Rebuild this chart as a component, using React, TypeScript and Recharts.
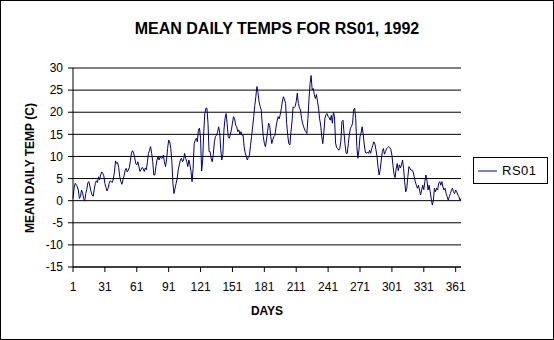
import { CartesianGrid, Legend, Line, LineChart, XAxis, YAxis } from "recharts";

// mean daily temperature (C), one value per day
const tempsQ1 = [
  0.5, 2.8, 3.9, 3.7, 3.2, 2.4, 0.5, 0.9, 2.4, 1.8,
  0.5, -0.1, 1.6, 2.6, 4.1, 4.3, 3.1, 2.0, 1.3, 1.0,
  2.6, 3.9, 4.5, 4.1, 5.4, 4.7, 5.8, 6.5, 6.2, 5.6,
  3.9, 3.0, 2.2, 2.8, 3.9, 4.5, 4.3, 4.1, 5.0, 6.5,
  9.0, 8.4, 8.6, 7.5, 5.4, 4.3, 3.7, 4.7, 5.6, 6.8,
  7.3, 6.5, 6.9, 7.5, 9.0, 10.8, 11.3, 10.8, 9.8, 8.4,
  8.1, 8.8, 7.7, 6.6, 7.0, 7.5, 7.3, 6.6, 7.4, 7.0,
  8.8, 10.7, 11.4, 12.2, 10.7, 8.8, 5.8, 5.8, 7.7, 9.2,
  9.9, 9.2, 9.9, 9.6, 9.6, 10.3, 8.8, 7.7, 9.2, 11.8,
  13.7,
];
const tempsQ2 = [
  13.3, 11.8, 8.8, 3.9, 1.6, 2.8, 3.9, 5.0, 7.0,
  8.1, 9.2, 9.6, 8.8, 9.2, 10.7, 9.6, 8.8, 7.7, 9.2,
  8.1, 6.6, 4.3, 7.3, 12.9, 13.7, 14.1, 13.3, 16.0, 16.4,
  14.1, 6.7, 9.2, 15.6, 19.7, 20.9, 20.9, 17.5, 11.1, 11.1,
  9.5, 8.8, 10.5, 13.3, 14.5, 14.8, 15.5, 16.7, 15.5, 11.5,
  9.2, 10.5, 16.0, 18.6, 19.7, 17.5, 14.5, 14.1, 15.0, 16.0,
  17.5, 19.0, 18.5, 17.1, 16.7, 15.6, 16.0, 15.0, 15.6, 14.8,
  14.8, 12.2, 10.8, 10.0, 9.2, 9.9, 10.3, 12.5, 14.5, 16.7,
  19.0, 21.5, 23.5, 25.8, 24.5, 22.5, 21.3, 20.6, 17.5, 14.5,
  13.0, 12.2,
];
const tempsQ3 = [
  13.7, 15.6, 17.5, 17.0, 14.5, 12.9, 13.8, 14.5, 14.8, 16.7,
  18.0, 19.0, 18.5, 19.5, 20.9, 22.5, 23.5, 22.8, 22.0, 17.5,
  14.8, 12.9, 12.6, 15.5, 17.8, 21.2, 21.0, 21.3, 22.4, 24.3,
  22.0, 21.0, 20.5, 18.6, 17.5, 16.7, 16.0, 15.6, 15.2, 18.6,
  23.0, 26.5, 28.3, 25.0, 25.4, 24.0, 23.1, 24.0, 22.5, 20.9,
  18.5, 17.1, 14.5, 12.9, 15.5, 18.6, 19.5, 19.7, 19.0, 18.8,
  18.2, 19.3, 17.5, 20.0, 19.0, 13.0, 12.0, 11.8, 11.4, 11.8,
  13.5, 17.9, 18.2, 15.2, 12.5, 10.7, 10.7, 12.9, 15.0, 16.4,
  16.8, 17.5, 20.5, 20.9, 18.5, 12.2, 9.6, 11.5, 14.5, 15.3,
  16.7, 15.0,
];
const tempsQ4 = [
  12.6, 11.0, 10.7, 11.0, 10.7, 11.4, 10.7, 11.8, 12.5, 13.3,
  12.8, 11.5, 10.0, 7.5, 5.8, 7.0, 9.2, 11.1, 11.8, 10.5,
  11.1, 11.8, 12.0, 12.2, 12.0, 11.6, 10.3, 8.0, 6.0, 5.2,
  7.2, 8.4, 6.8, 8.1, 7.4, 8.1, 9.2, 7.2, 4.3, 2.0,
  2.8, 5.4, 7.7, 7.3, 6.9, 6.9, 6.5, 5.4, 4.3, 3.5,
  2.8, 3.5, 2.4, 1.3, 2.4, 3.5, 2.5, 4.3, 5.8, 4.5,
  2.4, 3.5, 2.0, 0.5, -1.0, 0.1, 2.8, 2.0, 2.8, 2.4,
  3.9, 4.3, 3.5, 4.3, 3.1, 2.4, 2.8, 1.6, 0.9, 0.1,
  0.9, 1.6, 2.4, 2.8, 2.0, 1.6, 2.4, 2.0, 1.3, 0.9,
  0.1, 0.5,
];

const dayTicks = [1, 31, 61, 91, 121, 151, 181, 211, 241, 271, 301, 331, 361];
const tempTicks = [-15, -10, -5, 0, 5, 10, 15, 20, 25, 30];
const seriesName = "RS01";

const temps = [...tempsQ1, ...tempsQ2, ...tempsQ3, ...tempsQ4];
const data = temps.map((t, i) => ({ day: i + 1, [seriesName]: t }));

const font = "Arial, 'Liberation Sans', sans-serif";
const tickStyle = { fill: "#000", fontSize: 12, fontFamily: font };

function LegendBox() {
  return (
    <div
      style={{
        border: "1px solid #000",
        width: 75,
        height: 27,
        boxSizing: "border-box",
        display: "flex",
        alignItems: "center",
        fontFamily: font,
        fontSize: 13,
        background: "#fff",
      }}
    >
      <svg width={24} height={10} style={{ marginLeft: 4 }}>
        <line x1={0} y1={5} x2={19} y2={5} stroke="#000080" strokeWidth={1} />
      </svg>
      <span style={{ letterSpacing: 0.5 }}>{seriesName}</span>
    </div>
  );
}

export default function App() {
  return (
    <div style={{ position: "absolute", left: 0, top: 0, width: 554, height: 340, background: "#fff", fontFamily: font }}>
      <LineChart
        width={554}
        height={340}
        data={data}
        margin={{ top: 68, right: 93, bottom: 43, left: 33 }}
      >
        <CartesianGrid vertical={false} stroke="#000" strokeWidth={1} />
        <XAxis
          dataKey="day"
          type="number"
          domain={[1, 366]}
          ticks={dayTicks}
          interval={0}
          height={30}
          tickSize={5}
          tickMargin={10}
          stroke="#000"
          tick={tickStyle}
        />
        <YAxis
          domain={[-15, 30]}
          ticks={tempTicks}
          interval={0}
          width={40}
          tickSize={5}
          tickMargin={5}
          stroke="#000"
          tick={tickStyle}
        />
        <YAxis
          yAxisId="frame"
          orientation="right"
          domain={[-15, 30]}
          width={0}
          tick={false}
          tickLine={false}
          stroke="#000"
        />
        <Legend
          layout="vertical"
          align="center"
          verticalAlign="middle"
          content={() => <LegendBox />}
          wrapperStyle={{ left: 473, top: 157, width: 75, height: 27 }}
        />
        <Line
          type="linear"
          dataKey={seriesName}
          stroke="#000080"
          strokeWidth={1}
          dot={false}
          isAnimationActive={false}
        />
      </LineChart>
      <div
        style={{
          position: "absolute",
          left: 0,
          top: 20,
          width: 554,
          textAlign: "center",
          fontWeight: "bold",
          fontSize: 16,
          lineHeight: "18px",
        }}
      >
        MEAN DAILY TEMPS FOR RS01, 1992
      </div>
      <div
        style={{
          position: "absolute",
          left: 30 - 100,
          top: 168 - 8,
          width: 200,
          textAlign: "center",
          fontWeight: "bold",
          fontSize: 12,
          lineHeight: "16px",
          transform: "rotate(-90deg)",
        }}
      >
        MEAN DAILY TEMP (C)
      </div>
      <div
        style={{
          position: "absolute",
          left: 167,
          top: 303,
          width: 200,
          textAlign: "center",
          fontWeight: "bold",
          fontSize: 12,
          lineHeight: "16px",
        }}
      >
        DAYS
      </div>
      <div
        style={{
          position: "absolute",
          left: 0,
          top: 0,
          width: 554,
          height: 340,
          border: "1px solid #000",
          boxSizing: "border-box",
          pointerEvents: "none",
        }}
      />
    </div>
  );
}
